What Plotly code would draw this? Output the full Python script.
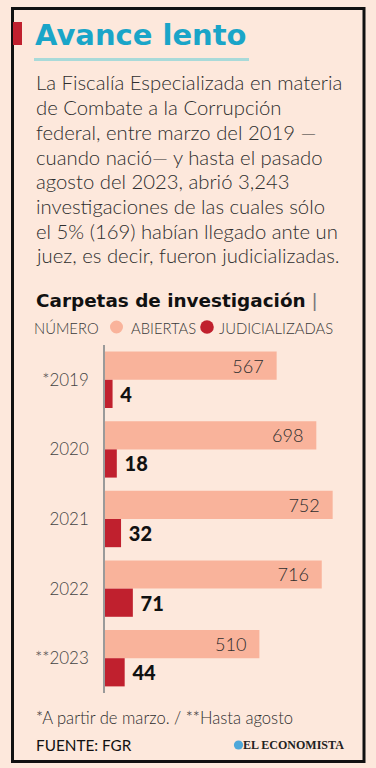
import plotly.graph_objects as go

# ---- data ----
years = ["*2019", "2020", "2021", "2022", "**2023"]
abiertas = [567, 698, 752, 716, 510]
judicializadas = [4, 18, 32, 71, 44]

title = "Avance lento"
body_lines = [
    "La Fiscalía Especializada en materia",
    "de Combate a la Corrupción",
    "federal, entre marzo del 2019 —",
    "cuando nació— y hasta el pasado",
    "agosto del 2023, abrió 3,243",
    "investigaciones de las cuales sólo",
    "el 5% (169) habían llegado ante un",
    "juez, es decir, fueron judicializadas.",
]
subtitle = "Carpetas de investigación"
legend_unit = "NÚMERO"
legend_names = ["ABIERTAS", "JUDICIALIZADAS"]
note = "*A partir de marzo. / **Hasta agosto"
source = "FUENTE: FGR"
brand = "EL ECONOMISTA"

# ---- style ----
BG = "#FDE8DC"
LIGHT = "#F9B39B"
DARK = "#C0202E"
TEAL = "#1AA5C8"
TXT = "#2E2E2E"
FONT = "Lato"
HEAD = "DejaVu Sans"
STUB = 21  # minimal visible stem for small judicialized bars (axis units)

W, H = 376, 768
ML, MR, MT, MB = 105, 17, 345, 75
PW, PH = W - ML - MR, H - MT - MB


def px(x):
    return (x - ML) / PW


def py(y):
    return (MT + PH - y) / PH


fig = go.Figure()
fig.add_trace(go.Bar(
    y=years, x=abiertas, orientation="h", marker=dict(color=LIGHT, line=dict(width=0)),
    text=[f"{v}\u00a0\u00a0" for v in abiertas], textposition="inside", insidetextanchor="end",
    textfont=dict(family=FONT, size=22, color=TXT, weight=300), name=legend_names[0],
    hoverinfo="skip",
))
fig.add_trace(go.Bar(
    y=years, x=[v + STUB for v in judicializadas], orientation="h",
    marker=dict(color=DARK, line=dict(width=0)),
    text=[f"\u00a0{v}" for v in judicializadas], textposition="outside",
    textfont=dict(family=FONT, size=20, color="#111111", weight=900), name=legend_names[1],
    cliponaxis=False, hoverinfo="skip",
))


def label(x, y, text, font, anchor="left"):
    return dict(x=px(x), y=py(y), xref="paper", yref="paper", xanchor=anchor, yanchor="middle",
                text=text, showarrow=False, font=font)


ann = [label(33, 35, f"<b>{title}</b>", dict(family=HEAD, size=29, color=TEAL))]
for i, line in enumerate(body_lines):
    ann.append(label(34, 82.5 + i * 24.7, line,
                     dict(family=FONT, size=20.3, color=TXT, weight=300)))
ann.append(label(34, 300, f"<b>{subtitle}</b> <span style='color:#777;font-weight:normal'>|</span>",
                 dict(family=HEAD, size=18.4, color="#111111")))
legfont = dict(family=FONT, size=14.8, color="#3A3A3A", weight=300)
ann.append(label(32, 327.5, legend_unit, legfont))
ann.append(label(129, 327.5, legend_names[0], legfont))
ann.append(label(217, 327.5, legend_names[1], legfont))
ann.append(label(34, 718, note, dict(family=FONT, size=16.6, color=TXT, weight=300)))
ann.append(label(34, 745, source, dict(family=FONT, size=15.3, color="#111111", weight=400)))
ann.append(label(346, 745, f"<b>{brand}</b>",
                 dict(family="Liberation Serif", size=12, color="#222222"), anchor="right"))


def circle(cx, cy, r, color):
    return dict(type="circle", xref="paper", yref="paper", x0=px(cx - r), x1=px(cx + r),
                y0=py(cy + r), y1=py(cy - r), line=dict(width=0), fillcolor=color)


shapes = [
    dict(type="rect", xref="paper", yref="paper", x0=px(12.5), x1=px(364), y0=py(8.5), y1=py(761.5),
         line=dict(color="#111111", width=3), fillcolor="rgba(0,0,0,0)", layer="below"),
    dict(type="rect", xref="paper", yref="paper", x0=px(13), x1=px(22), y0=py(22), y1=py(45),
         line=dict(width=0), fillcolor=DARK),
    dict(type="rect", xref="paper", yref="paper", x0=px(34), x1=px(249), y0=py(58), y1=py(61),
         line=dict(width=0), fillcolor="#A9DAD9"),
    circle(116.5, 327, 6.5, LIGHT),
    circle(207, 327, 6.8, DARK),
    circle(238.5, 745, 4.6, "#4FA8DA"),
]

fig.update_layout(
    width=W, height=H, autosize=False,
    margin=dict(l=ML, r=MR, t=MT, b=MB),
    paper_bgcolor=BG, plot_bgcolor=BG,
    barmode="group", bargap=0.19, bargroupgap=0,
    showlegend=False,
    annotations=ann, shapes=shapes,
)
fig.update_xaxes(range=[0, 839], visible=False, fixedrange=True)
fig.update_yaxes(
    autorange="reversed", showline=True, linecolor="#9A9A9A", linewidth=1.5,
    showgrid=False, zeroline=False, ticks="", ticklabelstandoff=11,
    tickfont=dict(family=FONT, size=17, color="#444444", weight=300), fixedrange=True,
)

fig.write_html(
    "out.html",
    config={"displayModeBar": False},
    post_script="document.body.style.margin='0';document.body.style.background='%s';"
                "document.documentElement.style.overflow='hidden';" % BG,
)
